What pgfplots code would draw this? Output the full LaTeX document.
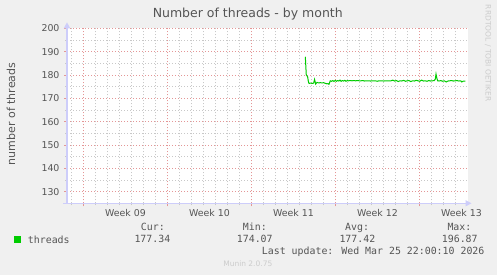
\documentclass[border=0pt]{standalone}
\usepackage{pgfplots}
\pgfplotsset{compat=1.18}
\usetikzlibrary{arrows.meta}
\usepackage{fontspec}
\setmainfont{DejaVu Sans}
\newfontfamily\monof{DejaVu Sans Mono}
\definecolor{bgc}{HTML}{F0F0F0}
\definecolor{txt}{HTML}{555555}
\definecolor{mgrid}{RGB}{228,150,150}
\definecolor{ngrid}{RGB}{200,200,200}
\definecolor{axc}{RGB}{205,205,250}
\definecolor{gr}{HTML}{00CC00}
\definecolor{wm}{HTML}{CCCCCC}
\newcommand{\axf}{\fontsize{9.4}{10}\selectfont}
\newcommand{\lgf}{\monof\fontsize{9.9}{11}\selectfont}
\begin{document}
\begin{tikzpicture}
\fill[bgc] (0,0) rectangle (497pt,275pt);
\useasboundingbox (0,0) rectangle (497pt,275pt);
\begin{axis}[
  at={(67pt,71.7pt)}, anchor=south west,
  scale only axis, width=400.5pt, height=175pt,
  xmin=0, xmax=33.375, ymin=125, ymax=200,
  axis background/.style={fill=white},
  axis lines=left,
  axis line style={draw=axc, line width=1.4pt},
  every outer x axis line/.append style={-{Triangle[width=6pt,length=6pt]}, shorten >=-4pt, shorten <=-4pt},
  every outer y axis line/.append style={-{Triangle[width=6pt,length=6pt]}, shorten >=-6pt},
  /pgf/number format/assume math mode=true,
  ytick={130,140,...,200},
  minor ytick={125,135,...,195},
  xtick={1.375,8.375,15.375,22.375,29.375},
  xticklabels={},
  minor xtick={0.375,2.375,3.375,4.375,5.375,6.375,7.375,9.375,10.375,11.375,12.375,13.375,14.375,16.375,17.375,18.375,19.375,20.375,21.375,23.375,24.375,25.375,26.375,27.375,28.375,30.375,31.375,32.375},
  extra x ticks={4.875,11.875,18.875,25.875,32.875},
  extra x tick labels={Week 09,Week 10,Week 11,Week 12,Week 13},
  extra x tick style={grid=none, major tick length=0pt, xticklabel style={yshift=-2.6pt}},
  grid=both,
  major grid style={draw=mgrid, line width=0.7pt, dash pattern=on 1pt off 2pt},
  minor grid style={draw=ngrid, line width=0.7pt, dash pattern=on 1pt off 2pt},
  tick align=outside,
  major tick length=3pt, minor tick length=2pt,
  major tick style={draw=mgrid, line width=0.8pt},
  minor tick style={draw=ngrid, line width=0.8pt},
  tick label style={font=\axf, text=txt},
  yticklabel style={xshift=-1pt},
  title={Number of threads - by month},
  title style={at={(axis description cs:0.4514,1.0246)}, anchor=base, font=\fontsize{12.5}{14}\selectfont, text=txt},
  ylabel={number of threads},
  ylabel style={at={(axis description cs:-0.1398,0.511)}, anchor=center, rotate=0, font=\fontsize{11}{12}\selectfont, text=txt},
  legend style={at={(axis description cs:-0.1323,-0.2097)}, anchor=west, draw=none, fill=none, inner sep=0pt, font=\lgf, text=txt, legend cell align=left, nodes={inner sep=0pt}, /tikz/every odd column/.append style={column sep=6.7pt}},
  legend image code/.code={\fill[gr] (0pt,-3pt) rectangle (6pt,3pt);},
]
\addplot[gr, line width=1pt, no marks] coordinates {
(19.86,187.8) (19.94,180.0) (20.00,179.6) (20.05,179.3) (20.12,177.0) (20.17,176.4) (20.30,176.5) (20.45,176.4) (20.55,176.5) (20.63,178.1) (20.72,176.1) (20.83,176.8) (20.97,176.6) (21.11,176.7) (21.25,176.6) (21.39,176.7) (21.53,176.4) (21.67,176.2) (21.75,176.3) (21.83,176.0) (21.94,177.5) (22.05,177.3) (22.15,177.6) (22.25,177.2) (22.35,177.7) (22.45,177.3) (22.55,177.6) (22.65,177.4) (22.75,177.8) (22.85,177.3) (22.95,177.6) (23.05,177.4) (23.15,177.7) (23.25,177.3) (23.35,177.6) (23.45,177.5) (23.6,177.6) (23.75,177.5) (23.9,177.6) (24.05,177.5) (24.2,177.6) (24.35,177.5) (24.5,177.5) (24.65,177.6) (24.8,177.4) (24.95,177.5) (25.1,177.5) (25.3,177.4) (25.5,177.5) (25.7,177.5) (25.85,177.3) (26.0,177.5) (26.2,177.5) (26.4,177.4) (26.6,177.5) (26.8,177.5) (27.0,177.5) (27.15,177.8) (27.3,177.4) (27.45,177.6) (27.6,177.2) (27.75,177.5) (27.9,177.4) (28.05,177.7) (28.2,177.3) (28.35,177.5) (28.5,177.6) (28.65,177.2) (28.8,177.5) (28.95,177.4) (29.1,177.7) (29.25,177.5) (29.4,177.3) (29.55,177.8) (29.7,177.4) (29.85,177.5) (30.0,177.3) (30.15,177.6) (30.3,177.4) (30.45,177.5) (30.6,177.6) (30.69,178.2) (30.75,180.4) (30.82,178.6) (30.89,177.5) (31.0,177.4) (31.15,177.6) (31.3,177.3) (31.45,177.5) (31.6,177.0) (31.75,177.4) (31.9,177.5) (32.05,177.6) (32.2,177.4) (32.35,177.5) (32.5,177.6) (32.65,177.4) (32.8,177.5) (32.9,177.0) (33.0,177.3) (33.1,177.4) (33.19,177.3)
};
\addlegendentry{threads}
\end{axis}
\begin{scope}[every node/.style={inner sep=0pt, anchor=base west, font=\lgf, text=txt}]
\node at (140.7pt,44.3pt) {Cur:};
\node at (242.7pt,44.3pt) {Min:};
\node at (345pt,44.3pt) {Avg:};
\node at (447.3pt,44.3pt) {Max:};
\node at (134.3pt,32.3pt) {177.34};
\node at (236.7pt,32.3pt) {174.07};
\node at (339.3pt,32.3pt) {177.42};
\node at (441.7pt,32.3pt) {196.87};
\node at (261.7pt,20.3pt) {Last update: Wed Mar 25 22:00:10 2026};
\end{scope}
\node[inner sep=0pt, anchor=base, font=\fontsize{7.5}{8}\selectfont, text=wm] at (247.8pt,8pt) {Munin 2.0.75};
\node[inner sep=0pt, anchor=center, rotate=-90, font=\fontsize{7.5}{8}\selectfont, text=wm] at (488pt,221.7pt) {RRDTOOL / TOBI OETIKER};
\end{tikzpicture}
\end{document}
